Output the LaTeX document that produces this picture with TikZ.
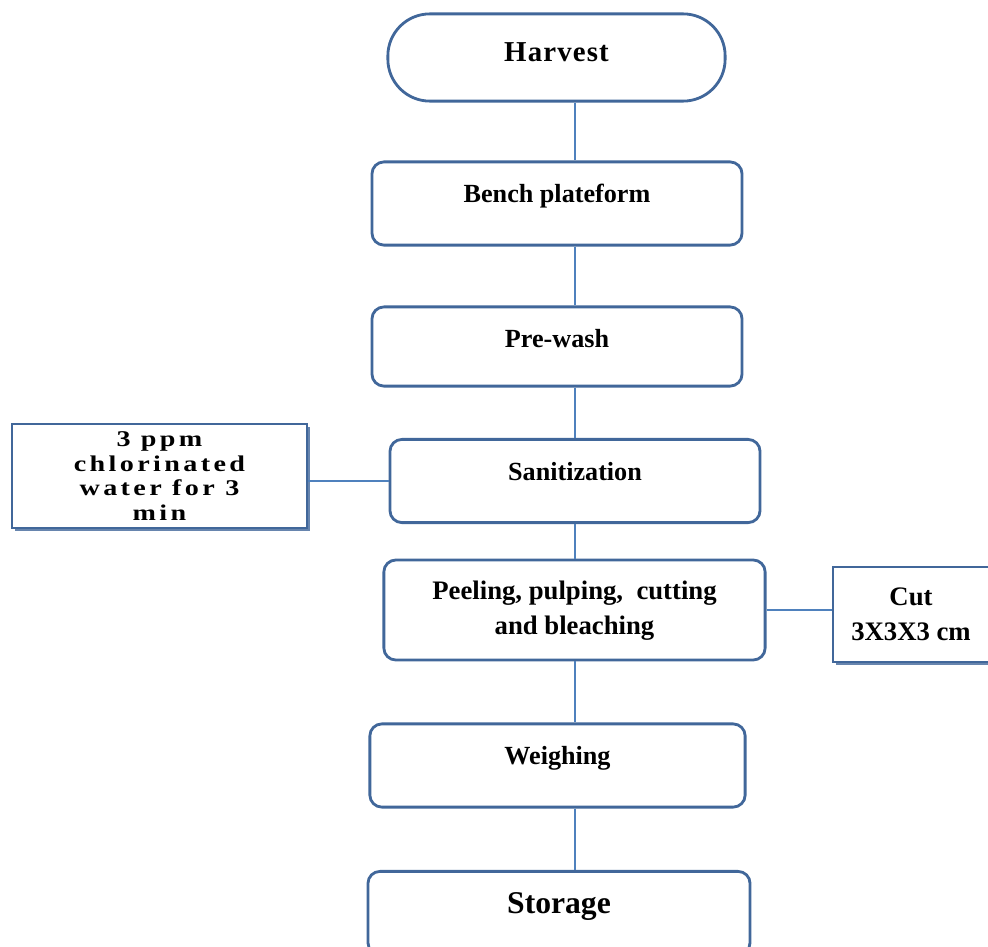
\documentclass[tikz,border=0pt]{standalone}
\usepackage{fontspec}
\setmainfont{Liberation Serif}
\usetikzlibrary{shadows}
\definecolor{boxblue}{HTML}{41679A}
\definecolor{linkblue}{HTML}{4F81BD}
\tikzset{
  step box/.style={draw=boxblue, line width=2pt, rounded corners=0.3cm, fill=white,
    minimum width=9.25cm, minimum height=2.08cm, align=center,
    font=\fontsize{18.6}{25}\selectfont\bfseries, text depth=0.5cm},
  note box/.style={draw=boxblue, line width=1.2pt, fill=white, align=center,
    drop shadow={shadow xshift=2pt, shadow yshift=-2pt, fill=boxblue!80, opacity=1}},
  link/.style={draw=linkblue, line width=1pt}
}
\begin{document}
\begin{tikzpicture}[x=0.025cm, y=-0.025cm]
\useasboundingbox (0,0) rectangle (988,947);
\coordinate (spine) at (575, 0);
\node[step box, rounded corners=1.05cm, minimum width=8.43cm, minimum height=2.18cm, text depth=0.25cm, font=\fontsize{20.5}{25}\selectfont\bfseries\addfontfeature{LetterSpace=4}] (harvest) at (556.5, 57.5) {Harvest};
\node[step box] (bench) at (557, 203.5) {Bench plateform};
\node[step box, minimum height=1.98cm, text depth=0.4cm] (prewash) at (557, 346.5) {Pre-wash};
\node[step box] (sanit) at (575, 481) {Sanitization};
\node[step box, minimum width=9.53cm, minimum height=2.5cm, text depth=\dp\strutbox, font=\fontsize{19}{25}\selectfont\bfseries] (peel) at (574.5, 610) {Peeling, pulping,~ cutting\\and bleaching};
\node[step box, minimum width=9.38cm] (weigh) at (557.5, 765.5) {Weighing};
\node[step box, minimum width=9.55cm, font=\fontsize{22.5}{25}\selectfont\bfseries] (store) at (559, 913) {Storage};
\node[note box, minimum width=7.38cm, minimum height=2.6cm, font=\fontsize{16}{17.7}\selectfont\bfseries\addfontfeature{FakeStretch=1.25,LetterSpace=15}] (chlor) at (159.5, 476) {3 ppm\\chlorinated\\water for 3\\min};
\node[note box, minimum width=3.9cm, minimum height=2.38cm, font=\fontsize{19}{25}\selectfont\bfseries] (cut) at (911, 614.5) {Cut\\3X3X3 cm};
\draw[link] (harvest.south -| spine) -- (bench.north -| spine);
\draw[link] (bench.south -| spine) -- (prewash.north -| spine);
\draw[link] (prewash.south -| spine) -- (sanit.north -| spine);
\draw[link] (sanit.south -| spine) -- (peel.north -| spine);
\draw[link] (peel.south -| spine) -- (weigh.north -| spine);
\draw[link] (weigh.south -| spine) -- (store.north -| spine);
\draw[link] (chlor.east |- sanit.west) -- (sanit.west);
\draw[link] (peel.east) -- (cut.west |- peel.east);
\end{tikzpicture}
\end{document}
